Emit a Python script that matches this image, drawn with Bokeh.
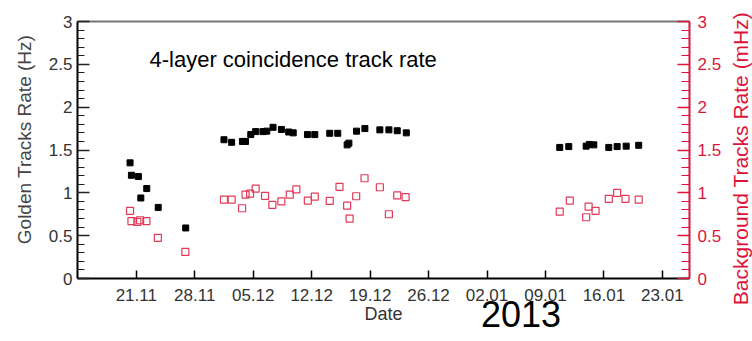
from math import pi

import pandas as pd
from bokeh.embed import file_html
from bokeh.layouts import row
from bokeh.models import (ColumnDataSource, DatetimeTickFormatter, FixedTicker,
                          Label, LinearAxis, NumeralTickFormatter, Range1d,
                          SingleIntervalTicker)
from bokeh.plotting import figure
from bokeh.resources import INLINE

# Golden (4-layer coincidence) track rate, Hz
golden_dates = [
    "2012-11-20 06:00", "2012-11-20 10:00", "2012-11-21 06:00", "2012-11-21 13:00",
    "2012-11-22 06:00", "2012-11-23 15:00", "2012-11-26 22:00",
    "2012-12-01 12:00", "2012-12-02 10:00", "2012-12-03 17:00", "2012-12-04 02:00",
    "2012-12-04 17:00", "2012-12-05 07:00", "2012-12-06 04:00", "2012-12-06 15:00",
    "2012-12-07 09:00", "2012-12-08 09:00", "2012-12-09 06:00", "2012-12-09 19:00",
    "2012-12-11 12:00", "2012-12-12 09:00", "2012-12-14 04:00", "2012-12-15 03:00",
    "2012-12-16 06:00", "2012-12-16 11:00", "2012-12-17 09:00", "2012-12-18 09:00",
    "2012-12-20 04:00", "2012-12-21 06:00", "2012-12-22 06:00", "2012-12-23 08:00",
    "2013-01-10 17:00", "2013-01-11 19:00", "2013-01-13 21:00", "2013-01-14 06:00",
    "2013-01-14 19:00", "2013-01-16 14:00", "2013-01-17 14:00", "2013-01-18 16:00",
    "2013-01-20 04:00",
]
golden_rate = [
    1.35, 1.205, 1.19, 0.94,
    1.05, 0.83, 0.59,
    1.62, 1.59, 1.60, 1.60,
    1.68, 1.715, 1.715, 1.72,
    1.765, 1.74, 1.71, 1.70,
    1.68, 1.68, 1.695, 1.695,
    1.56, 1.58, 1.72, 1.75,
    1.735, 1.735, 1.725, 1.70,
    1.53, 1.54, 1.545, 1.565,
    1.56, 1.53, 1.54, 1.545,
    1.555,
]

# Background track rate, mHz
background_dates = [
    "2012-11-20 06:00", "2012-11-20 10:00", "2012-11-21 03:00", "2012-11-21 11:00",
    "2012-11-22 05:00", "2012-11-23 14:00", "2012-11-26 21:00",
    "2012-12-01 12:00", "2012-12-02 10:00", "2012-12-03 16:00", "2012-12-04 02:00",
    "2012-12-04 15:00", "2012-12-05 07:00", "2012-12-06 10:00", "2012-12-07 07:00",
    "2012-12-08 09:00", "2012-12-09 09:00", "2012-12-10 04:00", "2012-12-11 13:00",
    "2012-12-12 09:00", "2012-12-14 04:00", "2012-12-15 08:00", "2012-12-16 06:00",
    "2012-12-16 13:00", "2012-12-17 08:00", "2012-12-18 08:00", "2012-12-20 04:00",
    "2012-12-21 06:00", "2012-12-22 06:00", "2012-12-23 06:00",
    "2013-01-10 17:00", "2013-01-11 22:00", "2013-01-13 21:00", "2013-01-14 04:00",
    "2013-01-15 00:00", "2013-01-16 14:00", "2013-01-17 14:00", "2013-01-18 14:00",
    "2013-01-20 04:00",
]
background_rate = [
    0.79, 0.67, 0.66, 0.68,
    0.67, 0.475, 0.31,
    0.92, 0.92, 0.82, 0.98,
    0.99, 1.05, 0.965, 0.86,
    0.90, 0.98, 1.04, 0.91,
    0.955, 0.905, 1.07, 0.85,
    0.70, 0.96, 1.17, 1.065,
    0.75, 0.97, 0.95,
    0.78, 0.91, 0.715, 0.84,
    0.79, 0.93, 1.00, 0.93,
    0.92,
]

date_ticks = [
    "2012-11-21", "2012-11-28", "2012-12-05", "2012-12-12", "2012-12-19",
    "2012-12-26", "2013-01-02", "2013-01-09", "2013-01-16", "2013-01-23",
]
year_text = "2013"
year_anchor = "2013-01-06 02:00"   # date under which the year is centred
golden_title = "Golden Tracks Rate (Hz)"
background_title = "Background Tracks Rate (mHz)"
caption = "4-layer coincidence track rate"

RED = "#dc143c"
TEXT = "#333333"
FONT = "Liberation Sans"


def ms(s):
    return int(pd.Timestamp(s).value // 10**6)


x_start, x_end = ms("2012-11-13 23:00"), ms("2013-01-26 06:00")

# canvas split: [left title strip | main chart | right title strip]
H = 341
LEFT_W, RIGHT_W = 40, 23
MAIN_W = 752 - LEFT_W - RIGHT_W
FRAME_L, FRAME_R, FRAME_T, FRAME_B = 77, 689, 21, 278   # frame edges on the page
FW, FH = FRAME_R - FRAME_L, FRAME_B - FRAME_T


def px_x(px):
    """page pixel column -> x data value"""
    return x_start + (px - FRAME_L) / FW * (x_end - x_start)


def px_y(py):
    """page pixel row -> y data value"""
    return (FRAME_B - py) / FH * 3.0


def no_frame_alignment(fig):
    # each panel keeps its own frame instead of lining up with its neighbours
    if "frame_align" in fig.properties():
        fig.frame_align = False


p = figure(
    width=MAIN_W, height=H, x_axis_type="datetime",
    x_range=Range1d(x_start, x_end), y_range=Range1d(0, 3),
    output_backend="svg", toolbar_location=None,
    min_border_left=FRAME_L - LEFT_W, min_border_right=LEFT_W + MAIN_W - FRAME_R,
    min_border_top=FRAME_T, min_border_bottom=H - FRAME_B,
    background_fill_color="white", border_fill_color="white",
)
no_frame_alignment(p)
p.extra_y_ranges = {"bg": Range1d(0, 3)}
p.outline_line_color = None
p.xgrid.visible = False
p.ygrid.visible = False

# bottom date axis
xa = p.xaxis[0]
xa.ticker = FixedTicker(ticks=[ms(d) for d in date_ticks])
fmt = "%d.%m"
xa.formatter = DatetimeTickFormatter(
    milliseconds=fmt, seconds=fmt, minsec=fmt, minutes=fmt, hourmin=fmt,
    hours=fmt, days=fmt, months=fmt, years=fmt)
xa.axis_line_color = "black"
xa.axis_line_width = 2
xa.major_tick_in = 8
xa.major_tick_out = 0
xa.major_tick_line_color = "black"
xa.major_tick_line_width = 1.5
xa.minor_tick_line_color = None
xa.major_label_standoff = 10
xa.major_label_text_font = FONT
xa.major_label_text_font_size = "17px"
xa.major_label_text_color = TEXT
xa.axis_label = "Date"
xa.axis_label_text_font = FONT
xa.axis_label_text_font_size = "18px"
xa.axis_label_text_font_style = "normal"
xa.axis_label_text_color = TEXT
xa.axis_label_standoff = 0

# year caption under the date axis, pulled up beside "Date"
year_axis = LinearAxis(
    ticker=FixedTicker(ticks=[ms(year_anchor)]),
    major_label_overrides={ms(year_anchor): year_text},
    axis_line_color=None, major_tick_line_color=None, minor_tick_line_color=None,
    major_tick_in=0, major_tick_out=0, minor_tick_in=0, minor_tick_out=0,
    major_label_standoff=-26, major_label_text_font=FONT,
    major_label_text_font_size="36px", major_label_text_color="black",
)
p.add_layout(year_axis, "below")

# left axis: golden tracks
ya = p.yaxis[0]
ya.ticker = SingleIntervalTicker(interval=0.5, num_minor_ticks=5)
ya.formatter = NumeralTickFormatter(format="0.[0]")
ya.axis_line_color = "black"
ya.axis_line_width = 2
ya.major_tick_in = 12
ya.major_tick_out = 0
ya.minor_tick_in = 7
ya.minor_tick_out = 0
ya.major_tick_line_color = "#222222"
ya.minor_tick_line_color = "#222222"
ya.major_tick_line_width = 1.5
ya.minor_tick_line_width = 1.2
ya.major_label_standoff = 5
ya.major_label_text_font = FONT
ya.major_label_text_font_size = "17px"
ya.major_label_text_color = TEXT

# right axis: background tracks
ra = LinearAxis(
    y_range_name="bg",
    ticker=SingleIntervalTicker(interval=0.5, num_minor_ticks=5),
    formatter=NumeralTickFormatter(format="0.[0]"),
    axis_line_color=RED, axis_line_width=2,
    major_tick_in=12, major_tick_out=0, minor_tick_in=8, minor_tick_out=0,
    major_tick_line_color=RED, minor_tick_line_color=RED,
    major_tick_line_width=1.5, minor_tick_line_width=1.2,
    major_label_standoff=8, major_label_text_font=FONT,
    major_label_text_font_size="17px", major_label_text_color=RED,
)
p.add_layout(ra, "right")

# plain top border
top = LinearAxis(
    ticker=FixedTicker(ticks=[]), axis_line_color="#777777", axis_line_width=2,
    major_tick_line_color=None, minor_tick_line_color=None,
    major_label_text_font_size="0px",
)
p.add_layout(top, "above")

golden = ColumnDataSource(dict(t=pd.to_datetime(golden_dates), v=golden_rate))
background = ColumnDataSource(dict(t=pd.to_datetime(background_dates), v=background_rate))

p.scatter("t", "v", source=background, y_range_name="bg", marker="square",
          size=7, fill_color=None, line_color="#e23a58", line_width=1.2)
p.scatter("t", "v", source=golden, marker="square", size=6,
          fill_color="black", line_color="black")

# in-plot caption
p.add_layout(Label(x=px_x(149), y=px_y(59), text=caption,
                   text_font=FONT, text_font_size="22px", text_color="black",
                   text_align="left", text_baseline="alphabetic"))


def title_strip(width, text, cx, cy, size, color):
    """narrow blank panel holding one vertical axis title (reads bottom-to-top)"""
    s = figure(width=width, height=H, x_range=Range1d(0, width), y_range=Range1d(0, H),
               output_backend="svg", toolbar_location=None, title_location=None,
               min_border=0, min_border_left=0, min_border_right=0,
               min_border_top=0, min_border_bottom=0,
               x_axis_location=None, y_axis_location=None,
               background_fill_color="white", border_fill_color="white")
    no_frame_alignment(s)
    s.outline_line_color = None
    s.xgrid.visible = False
    s.ygrid.visible = False
    s.add_layout(Label(x=cx, y=H - cy, text=text, angle=pi / 2,
                       text_font=FONT, text_font_size=size, text_color=color,
                       text_align="center", text_baseline="middle"))
    return s


left_strip = title_strip(LEFT_W, golden_title, 23.5, 139, "19px", "#444444")
right_strip = title_strip(RIGHT_W, background_title, 740 - LEFT_W - MAIN_W, 158,
                          "21px", RED)

layout = row(left_strip, p, right_strip)
open("out.html", "w").write(file_html(layout, INLINE))
